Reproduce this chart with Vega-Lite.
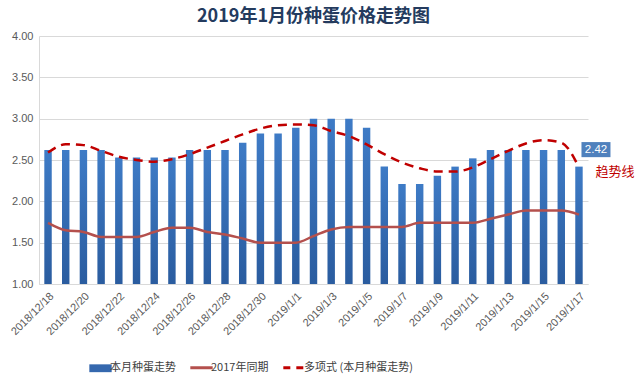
{
  "$schema": "https://vega.github.io/schema/vega-lite/v6.json",
  "width": 549,
  "height": 248,
  "padding": {"left": 8, "top": 8, "right": 5, "bottom": 5},
  "background": "white",
  "title": {"text": "2019年1月份种蛋价格走势图", "fontSize": 18, "fontWeight": "bold", "color": "#243B5E", "font": "Noto Sans CJK SC", "offset": 4},
  "config": {"font": "Noto Sans CJK SC", "view": {"stroke": null}},
  "data": {"values": [
    {"date": "2018/12/18", "price": 2.62, "last_year": 1.74, "trend": 2.59},
    {"date": "2018/12/19", "price": 2.62, "last_year": 1.65, "trend": 2.69},
    {"date": "2018/12/20", "price": 2.62, "last_year": 1.63, "trend": 2.68},
    {"date": "2018/12/21", "price": 2.62, "last_year": 1.57, "trend": 2.61},
    {"date": "2018/12/22", "price": 2.53, "last_year": 1.57, "trend": 2.54},
    {"date": "2018/12/23", "price": 2.53, "last_year": 1.57, "trend": 2.50},
    {"date": "2018/12/24", "price": 2.53, "last_year": 1.63, "trend": 2.48},
    {"date": "2018/12/25", "price": 2.53, "last_year": 1.68, "trend": 2.51},
    {"date": "2018/12/26", "price": 2.62, "last_year": 1.68, "trend": 2.57},
    {"date": "2018/12/27", "price": 2.62, "last_year": 1.63, "trend": 2.65},
    {"date": "2018/12/28", "price": 2.62, "last_year": 1.60, "trend": 2.73},
    {"date": "2018/12/29", "price": 2.71, "last_year": 1.55, "trend": 2.81},
    {"date": "2018/12/30", "price": 2.82, "last_year": 1.50, "trend": 2.88},
    {"date": "2018/12/31", "price": 2.82, "last_year": 1.50, "trend": 2.92},
    {"date": "2019/1/1", "price": 2.89, "last_year": 1.50, "trend": 2.93},
    {"date": "2019/1/2", "price": 3.00, "last_year": 1.58, "trend": 2.92},
    {"date": "2019/1/3", "price": 3.00, "last_year": 1.66, "trend": 2.85},
    {"date": "2019/1/4", "price": 3.00, "last_year": 1.69, "trend": 2.79},
    {"date": "2019/1/5", "price": 2.89, "last_year": 1.69, "trend": 2.69},
    {"date": "2019/1/6", "price": 2.42, "last_year": 1.69, "trend": 2.57},
    {"date": "2019/1/7", "price": 2.21, "last_year": 1.69, "trend": 2.47},
    {"date": "2019/1/8", "price": 2.21, "last_year": 1.74, "trend": 2.40},
    {"date": "2019/1/9", "price": 2.31, "last_year": 1.74, "trend": 2.36},
    {"date": "2019/1/10", "price": 2.42, "last_year": 1.74, "trend": 2.36},
    {"date": "2019/1/11", "price": 2.52, "last_year": 1.74, "trend": 2.41},
    {"date": "2019/1/12", "price": 2.62, "last_year": 1.79, "trend": 2.51},
    {"date": "2019/1/13", "price": 2.62, "last_year": 1.84, "trend": 2.61},
    {"date": "2019/1/14", "price": 2.62, "last_year": 1.89, "trend": 2.70},
    {"date": "2019/1/15", "price": 2.62, "last_year": 1.89, "trend": 2.74},
    {"date": "2019/1/16", "price": 2.62, "last_year": 1.89, "trend": 2.71},
    {"date": "2019/1/17", "price": 2.42, "last_year": 1.84, "trend": 2.41}
  ]},
  "encoding": {
    "x": {
      "field": "date", "type": "ordinal", "sort": null, "title": null,
      "scale": {"paddingInner": 0.58, "paddingOuter": 0.3},
      "axis": {
        "values": ["2018/12/18", "2018/12/20", "2018/12/22", "2018/12/24", "2018/12/26", "2018/12/28", "2018/12/30", "2019/1/1", "2019/1/3", "2019/1/5", "2019/1/7", "2019/1/9", "2019/1/11", "2019/1/13", "2019/1/15", "2019/1/17"],
        "labelAngle": -45, "labelFontSize": 11, "labelColor": "#595959", "labelFont": "Liberation Sans",
        "ticks": false, "domainColor": "#D9D9D9", "labelPadding": 6
      }
    }
  },
  "layer": [
    {
      "mark": {"type": "bar", "fill": {"gradient": "linear", "x1": 0, "y1": 0, "x2": 0, "y2": 1, "stops": [{"offset": 0, "color": "#3E7BC6"}, {"offset": 1, "color": "#2A5C9F"}]}},
      "encoding": {
        "y": {
          "field": "price", "type": "quantitative", "title": null,
          "scale": {"domain": [1, 4], "zero": false},
          "axis": {"values": [1, 1.5, 2, 2.5, 3, 3.5, 4], "format": ".2f", "labelFontSize": 11, "labelColor": "#595959", "labelFont": "Liberation Sans", "ticks": false, "domain": true, "domainColor": "#D9D9D9", "gridColor": "#D9D9D9", "labelPadding": 6}
        },
        "y2": {"datum": 1}
      }
    },
    {
      "mark": {"type": "line", "strokeWidth": 2.5, "interpolate": "monotone"},
      "encoding": {
        "y": {"field": "last_year", "type": "quantitative"},
        "color": {
          "datum": "2017年同期",
          "scale": {"domain": ["本月种蛋走势", "2017年同期", "多项式 (本月种蛋走势)"], "range": ["#3568AE", "#B4504D", "#C00000"]},
          "legend": {
            "orient": "none", "legendX": 56, "legendY": 326, "direction": "horizontal", "title": null, "labelFontSize": 11, "labelColor": "#404040",
            "symbolType": "stroke", "symbolSize": 500, "symbolStrokeWidth": 3, "columnPadding": 8, "labelOffset": 4,
            "encode": {"symbols": {"update": {
              "shape": {"signal": "datum.value === '本月种蛋走势' ? 'M-1,-0.35H1V0.35H-1Z' : 'stroke'"},
              "fill": {"signal": "datum.value === '本月种蛋走势' ? '#3568AE' : 'transparent'"},
              "stroke": {"signal": "datum.value === '本月种蛋走势' ? '#3568AE' : (datum.value === '2017年同期' ? '#B4504D' : '#C00000')"},
              "strokeWidth": {"signal": "datum.value === '本月种蛋走势' ? 0 : 3"},
              "strokeDash": {"signal": "datum.value === '多项式 (本月种蛋走势)' ? [7, 6] : [1, 0]"}
            }}}
          }
        }
      }
    },
    {
      "mark": {"type": "line", "strokeWidth": 2.5, "interpolate": "monotone", "strokeDash": [9, 6]},
      "encoding": {
        "y": {"field": "trend", "type": "quantitative"},
        "color": {"datum": "多项式 (本月种蛋走势)"}
      }
    },
    {
      "transform": [{"filter": "datum.date === '2019/1/17'"}],
      "mark": {"type": "point", "shape": "M-1,-0.52H1V0.52H-1Z", "size": 841, "filled": true, "opacity": 1, "color": "#4F81BD", "xOffset": 17, "yOffset": -17},
      "encoding": {"y": {"field": "price", "type": "quantitative"}}
    },
    {
      "transform": [{"filter": "datum.date === '2019/1/17'"}],
      "mark": {"type": "text", "color": "white", "fontSize": 11.5, "font": "Liberation Sans", "xOffset": 17, "yOffset": -17},
      "encoding": {"y": {"field": "price", "type": "quantitative"}, "text": {"field": "price", "type": "quantitative", "format": ".2f"}}
    },
    {
      "transform": [{"filter": "datum.date === '2019/1/17'"}],
      "mark": {"type": "text", "color": "#C00000", "fontSize": 13, "xOffset": 36, "yOffset": 5, "text": "趋势线"},
      "encoding": {"y": {"field": "price", "type": "quantitative"}}
    }
  ]
}
